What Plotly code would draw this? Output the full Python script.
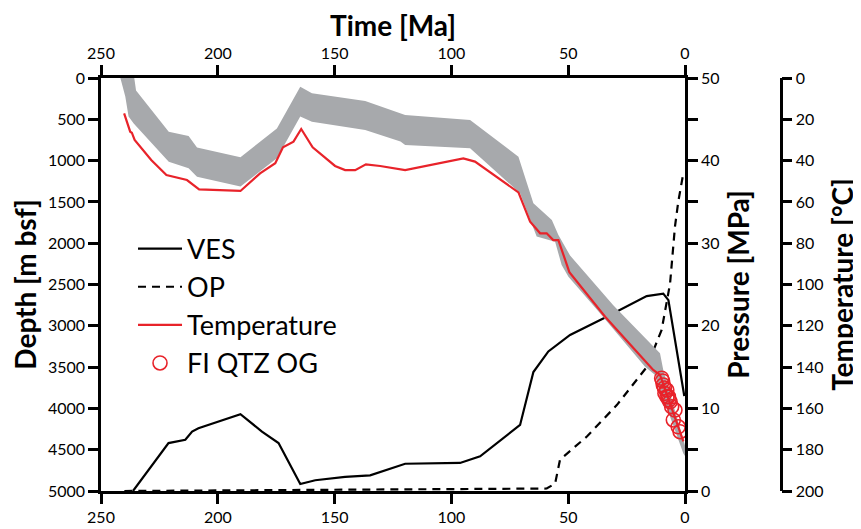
import plotly.graph_objects as go

# ---------------- data ----------------
# Temperature history (red line) : time [Ma], temperature [°C]
temp_t = [240.1, 237.5, 236.8, 235.6, 228.5, 222, 213.2, 208, 190.3, 181.9, 175.4, 172.1,
          167.6, 164.3, 159.4, 149.8, 145.5, 141.2, 136.6, 130.5, 119.8, 94.9, 89.9, 82,
          71.3, 66.3, 62, 59.2, 56.4, 54.2, 49.5, 34.2, 13.6, 10.7, 0.7]
temp_T = [17.1, 26, 26.5, 30, 39.7, 47, 49.4, 53.9, 54.7, 46.2, 41.3, 33.6,
          30.8, 24.7, 33.6, 42.6, 44.6, 44.6, 41.8, 42.6, 44.6, 38.9, 40.5, 47,
          55.4, 69.6, 75.2, 75.2, 78.5, 78.5, 94, 115.6, 141.4, 143.8, 176]

# Grey temperature envelope: upper (cooler) and lower (hotter) edges
band_up_t = [243, 236, 235, 221, 212.5, 208.9, 190.3, 181.1, 174.7, 164.7, 159.7, 136.9,
             121.8, 119.8, 92, 71.3, 64.9, 57, 54.2, 49.2, 30.7, 10.7, 9.3, 0]
band_up_T = [-5, -2, 6, 26, 28.1, 33.6, 38.4, 30, 24.4, 4.2, 7.4, 11.1,
             17.1, 17.9, 20.3, 38.1, 60.7, 68.8, 76, 86, 110, 133.3, 141.4, 178]
band_lo_t = [243, 241.7, 239.6, 238.2, 236, 221, 212.5, 208.9, 190.3, 181.1, 174.7, 164.7,
             159.7, 136.9, 121.8, 119.8, 92, 70.6, 63.5, 55.6, 52.8, 49.9, 37.1, 17.1,
             12.8, 0.7, 0]
band_lo_T = [-3, 0, 9, 18.7, 22, 40.5, 43.7, 47.8, 52.6, 44.6, 38.9, 18.7,
             21.2, 25.2, 30.8, 32.4, 34, 55.8, 76.8, 79.3, 90.6, 96.2, 113, 139.8,
             143.8, 181.8, 183]

# Fluid inclusions (FI QTZ OG)
fi_t = [10.0, 9.6, 9.3, 8.8, 8.6, 7.8, 7.7, 7.1, 6.8, 6.4, 5.7, 5.0, 4.3, 2.9, 2.1]
fi_T = [145.4, 146.7, 148.7, 150.1, 152.7, 151.1, 154.3, 154.3, 155.9, 156.8, 159.2,
        165.6, 160.8, 168.9, 171.3]

# Vertical effective stress (VES) [MPa]
ves_t = [236.3, 221.1, 213.9, 211, 208.3, 190.3, 181.1, 174, 164.7, 158.3, 145.5, 134.8,
         119.8, 96.3, 87.7, 70.6, 64.9, 58.5, 49.2, 33.5, 16.4, 9.3, 7.1, 0.3]
ves_P = [0, 5.8, 6.2, 7.2, 7.6, 9.3, 7.2, 5.8, 0.85, 1.3, 1.7, 1.9,
         3.3, 3.4, 4.2, 8.0, 14.4, 16.9, 18.9, 21.1, 23.6, 23.9, 23.1, 11.5]

# Overpressure (OP) [MPa]
op_t = [240, 59.2, 55.6, 53.5, 42, 29.2, 16.4, 10, 6.4, 4.3, 2.9, 0.7]
op_P = [0, 0.3, 0.9, 3.8, 6.6, 10.4, 15, 19.5, 25.1, 32, 35, 38.5]

time_ticks = [250, 200, 150, 100, 50, 0]
depth_ticks = list(range(0, 5001, 500))
pres_ticks = list(range(0, 51, 5))
pres_text = [str(v) if v % 10 == 0 else "" for v in pres_ticks]
temp_ticks = list(range(0, 201, 20))

# ---------------- styling ----------------
FONT = "Lato"
RED = "#e8232a"
GREY = "#a7a9ac"
# the page body adds an 8 px offset, so the figure is 8 px smaller each way
W, H = 853, 521
ML, MR, MT, MB = 93, 12, 70, 38
PW = W - ML - MR
XEND = 584 / PW
TPOS = (772.7 - ML) / PW

fig = go.Figure()

# empty traces that only register the depth / top-time axes as subplots
fig.add_trace(go.Scatter(x=[], y=[], xaxis="x", yaxis="y", showlegend=False,
                         hoverinfo="skip"))
fig.add_trace(go.Scatter(x=[], y=[], xaxis="x2", yaxis="y", showlegend=False,
                         hoverinfo="skip"))

# grey envelope polygon
fig.add_trace(go.Scatter(
    x=band_up_t + band_lo_t[::-1], y=band_up_T + band_lo_T[::-1],
    xaxis="x", yaxis="y3", mode="lines", fill="toself", fillcolor=GREY,
    line=dict(width=0, color=GREY), showlegend=False, hoverinfo="skip"))

fig.add_trace(go.Scatter(x=ves_t, y=ves_P, xaxis="x", yaxis="y2", mode="lines",
                         name="VES", line=dict(color="black", width=2.2),
                         legendrank=1, legendgroup="a"))
fig.add_trace(go.Scatter(x=op_t, y=op_P, xaxis="x", yaxis="y2", mode="lines",
                         name="OP", line=dict(color="black", width=2.2, dash="8px,6px"),
                         legendrank=2, legendgroup="b"))
fig.add_trace(go.Scatter(x=temp_t, y=temp_T, xaxis="x", yaxis="y3", mode="lines",
                         name="Temperature", line=dict(color=RED, width=2.2),
                         legendrank=3, legendgroup="c"))
fig.add_trace(go.Scatter(x=fi_t, y=fi_T, xaxis="x", yaxis="y3", mode="markers",
                         name="FI QTZ OG",
                         marker=dict(symbol="circle-open", size=14, color=RED,
                                     line=dict(width=1.6, color=RED)),
                         legendrank=4, legendgroup="d"))

axis_common = dict(showline=True, linewidth=2.5, linecolor="black", ticks="outside",
                   ticklen=10, tickwidth=2.5, tickcolor="black", showgrid=False,
                   zeroline=False, automargin=False,
                   tickfont=dict(family=FONT, size=16, color="black"))
title_font = dict(family=FONT, size=28, color="black", weight=700)

fig.update_layout(
    width=W, height=H, margin=dict(l=ML, r=MR, t=MT, b=MB, autoexpand=False),
    plot_bgcolor="rgba(0,0,0,0)", paper_bgcolor="white",
    font=dict(family=FONT, color="black"),
    xaxis=dict(domain=[0, XEND], range=[250, 0], tickvals=time_ticks,
               anchor="y", side="bottom", **axis_common),
    xaxis2=dict(domain=[0, XEND], range=[250, 0], tickvals=time_ticks, matches="x",
                overlaying="x", anchor="y", side="top",
                title=dict(text="Time [Ma]", font=title_font, standoff=4),
                **axis_common),
    yaxis=dict(range=[5000, 0], tickvals=depth_ticks, anchor="x", side="left",
               title=dict(text="Depth [m bsf]", font=title_font, standoff=7),
               **axis_common),
    yaxis2=dict(range=[0, 50], tickvals=pres_ticks, ticktext=pres_text,
                overlaying="y", anchor="x", side="right",
                title=dict(text="Pressure [MPa]", font=title_font, standoff=11),
                **axis_common),
    yaxis3=dict(range=[200, 0], tickvals=temp_ticks, overlaying="y", anchor="free",
                position=TPOS, side="right",
                title=dict(text="Temperature [°C]", font=title_font, standoff=10),
                **axis_common),
    legend=dict(x=0.0428, y=0.645, xanchor="left", yanchor="top",
                font=dict(family=FONT, size=27, color="black"),
                bgcolor="rgba(0,0,0,0)", itemwidth=44, tracegroupgap=0,
                traceorder="normal"),
)

fig.write_html("out.html")
